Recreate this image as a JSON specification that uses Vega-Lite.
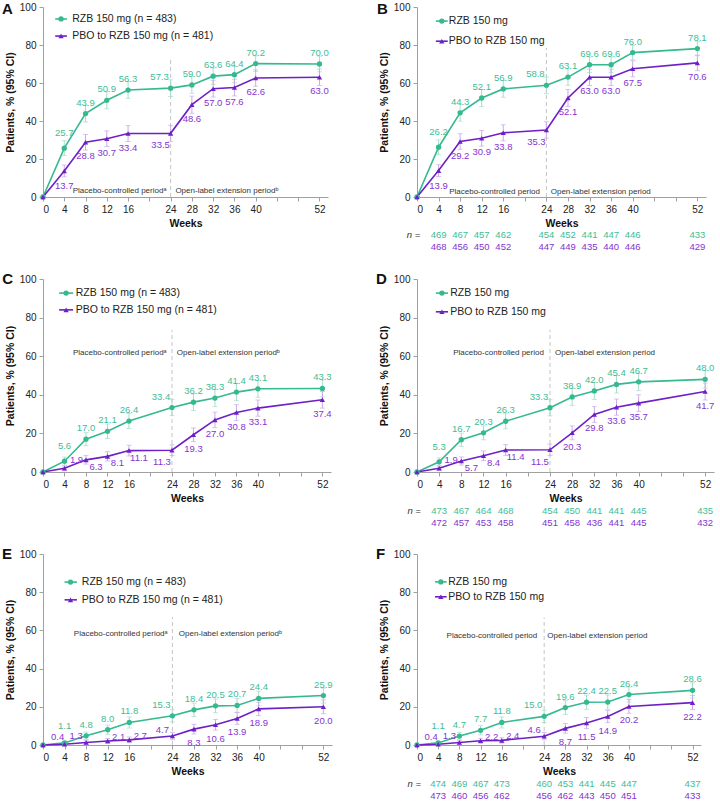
{
"$schema": "https://vega.github.io/schema/vega-lite/v6.json",
"padding": {"left": 2, "top": 1, "right": 0, "bottom": 0},
"background": "white",
"config": {
  "view": {"stroke": null},
  "font": "Liberation Sans",
  "axis": {"grid": false, "labelOverlap": false, "domainColor": "#a0a0a0", "tickColor": "#a0a0a0", "tickSize": 4, "labelPadding": 3, "labelFontSize": 10, "labelColor": "#222", "titleFontSize": 10.5, "titleFontWeight": "bold", "titleColor": "#111", "titlePadding": 4, "labelFont": "Liberation Sans", "titleFont": "Liberation Sans"}
},
"datasets": {
  "d": [
    {"p":"A","s":"RZB","w":0,"v":0,"lo":0,"hi":0},{"p":"A","s":"RZB","w":4,"v":25.7,"lo":21.8,"hi":29.6},{"p":"A","s":"RZB","w":8,"v":43.9,"lo":39.5,"hi":48.3},{"p":"A","s":"RZB","w":12,"v":50.9,"lo":46.4,"hi":55.4},{"p":"A","s":"RZB","w":16,"v":56.3,"lo":51.9,"hi":60.7},{"p":"A","s":"RZB","w":24,"v":57.3,"lo":52.9,"hi":61.7},{"p":"A","s":"RZB","w":28,"v":59.0,"lo":54.6,"hi":63.4},{"p":"A","s":"RZB","w":32,"v":63.6,"lo":59.3,"hi":67.9},{"p":"A","s":"RZB","w":36,"v":64.4,"lo":60.1,"hi":68.7},{"p":"A","s":"RZB","w":40,"v":70.2,"lo":66.1,"hi":74.3},{"p":"A","s":"RZB","w":52,"v":70.0,"lo":65.9,"hi":74.1},
    {"p":"A","s":"PBO","w":0,"v":0,"lo":0,"hi":0},{"p":"A","s":"PBO","w":4,"v":13.7,"lo":10.6,"hi":16.8},{"p":"A","s":"PBO","w":8,"v":28.8,"lo":24.7,"hi":32.9},{"p":"A","s":"PBO","w":12,"v":30.7,"lo":26.6,"hi":34.8},{"p":"A","s":"PBO","w":16,"v":33.4,"lo":29.2,"hi":37.6},{"p":"A","s":"PBO","w":24,"v":33.5,"lo":29.3,"hi":37.7},{"p":"A","s":"PBO","w":28,"v":48.6,"lo":44.1,"hi":53.1},{"p":"A","s":"PBO","w":32,"v":57.0,"lo":52.6,"hi":61.4},{"p":"A","s":"PBO","w":36,"v":57.6,"lo":53.2,"hi":62.0},{"p":"A","s":"PBO","w":40,"v":62.6,"lo":58.3,"hi":66.9},{"p":"A","s":"PBO","w":52,"v":63.0,"lo":58.7,"hi":67.3},
    {"p":"B","s":"RZB","w":0,"v":0,"lo":0,"hi":0},{"p":"B","s":"RZB","w":4,"v":26.2,"lo":22.3,"hi":30.1},{"p":"B","s":"RZB","w":8,"v":44.3,"lo":39.9,"hi":48.7},{"p":"B","s":"RZB","w":12,"v":52.1,"lo":47.6,"hi":56.6},{"p":"B","s":"RZB","w":16,"v":56.9,"lo":52.5,"hi":61.3},{"p":"B","s":"RZB","w":24,"v":58.8,"lo":54.4,"hi":63.2},{"p":"B","s":"RZB","w":28,"v":63.1,"lo":58.8,"hi":67.4},{"p":"B","s":"RZB","w":32,"v":69.6,"lo":65.5,"hi":73.7},{"p":"B","s":"RZB","w":36,"v":69.6,"lo":65.5,"hi":73.7},{"p":"B","s":"RZB","w":40,"v":76.0,"lo":72.2,"hi":79.8},{"p":"B","s":"RZB","w":52,"v":78.1,"lo":74.4,"hi":81.8},
    {"p":"B","s":"PBO","w":0,"v":0,"lo":0,"hi":0},{"p":"B","s":"PBO","w":4,"v":13.9,"lo":10.8,"hi":17.0},{"p":"B","s":"PBO","w":8,"v":29.2,"lo":25.1,"hi":33.3},{"p":"B","s":"PBO","w":12,"v":30.9,"lo":26.8,"hi":35.0},{"p":"B","s":"PBO","w":16,"v":33.8,"lo":29.6,"hi":38.0},{"p":"B","s":"PBO","w":24,"v":35.3,"lo":31.0,"hi":39.6},{"p":"B","s":"PBO","w":28,"v":52.1,"lo":47.6,"hi":56.6},{"p":"B","s":"PBO","w":32,"v":63.0,"lo":58.7,"hi":67.3},{"p":"B","s":"PBO","w":36,"v":63.0,"lo":58.7,"hi":67.3},{"p":"B","s":"PBO","w":40,"v":67.5,"lo":63.3,"hi":71.7},{"p":"B","s":"PBO","w":52,"v":70.6,"lo":66.5,"hi":74.7},
    {"p":"C","s":"RZB","w":0,"v":0,"lo":0,"hi":0},{"p":"C","s":"RZB","w":4,"v":5.6,"lo":3.5,"hi":7.7},{"p":"C","s":"RZB","w":8,"v":17.0,"lo":13.6,"hi":20.4},{"p":"C","s":"RZB","w":12,"v":21.1,"lo":17.4,"hi":24.8},{"p":"C","s":"RZB","w":16,"v":26.4,"lo":22.5,"hi":30.3},{"p":"C","s":"RZB","w":24,"v":33.4,"lo":29.2,"hi":37.6},{"p":"C","s":"RZB","w":28,"v":36.2,"lo":31.9,"hi":40.5},{"p":"C","s":"RZB","w":32,"v":38.3,"lo":33.9,"hi":42.7},{"p":"C","s":"RZB","w":36,"v":41.4,"lo":37.0,"hi":45.8},{"p":"C","s":"RZB","w":40,"v":43.1,"lo":38.7,"hi":47.5},{"p":"C","s":"RZB","w":52,"v":43.3,"lo":38.9,"hi":47.7},
    {"p":"C","s":"PBO","w":0,"v":0,"lo":0,"hi":0},{"p":"C","s":"PBO","w":4,"v":1.9,"lo":0.7,"hi":3.1},{"p":"C","s":"PBO","w":8,"v":6.3,"lo":4.1,"hi":8.5},{"p":"C","s":"PBO","w":12,"v":8.1,"lo":5.7,"hi":10.5},{"p":"C","s":"PBO","w":16,"v":11.1,"lo":8.3,"hi":13.9},{"p":"C","s":"PBO","w":24,"v":11.3,"lo":8.5,"hi":14.1},{"p":"C","s":"PBO","w":28,"v":19.3,"lo":15.8,"hi":22.8},{"p":"C","s":"PBO","w":32,"v":27.0,"lo":23.0,"hi":31.0},{"p":"C","s":"PBO","w":36,"v":30.8,"lo":26.7,"hi":34.9},{"p":"C","s":"PBO","w":40,"v":33.1,"lo":28.9,"hi":37.3},{"p":"C","s":"PBO","w":52,"v":37.4,"lo":33.1,"hi":41.7},
    {"p":"D","s":"RZB","w":0,"v":0,"lo":0,"hi":0},{"p":"D","s":"RZB","w":4,"v":5.3,"lo":3.3,"hi":7.3},{"p":"D","s":"RZB","w":8,"v":16.7,"lo":13.3,"hi":20.1},{"p":"D","s":"RZB","w":12,"v":20.3,"lo":16.7,"hi":23.9},{"p":"D","s":"RZB","w":16,"v":26.3,"lo":22.4,"hi":30.2},{"p":"D","s":"RZB","w":24,"v":33.3,"lo":29.1,"hi":37.5},{"p":"D","s":"RZB","w":28,"v":38.9,"lo":34.5,"hi":43.3},{"p":"D","s":"RZB","w":32,"v":42.0,"lo":37.6,"hi":46.4},{"p":"D","s":"RZB","w":36,"v":45.4,"lo":40.9,"hi":49.9},{"p":"D","s":"RZB","w":40,"v":46.7,"lo":42.2,"hi":51.2},{"p":"D","s":"RZB","w":52,"v":48.0,"lo":43.5,"hi":52.5},
    {"p":"D","s":"PBO","w":0,"v":0,"lo":0,"hi":0},{"p":"D","s":"PBO","w":4,"v":1.9,"lo":0.7,"hi":3.1},{"p":"D","s":"PBO","w":8,"v":5.7,"lo":3.6,"hi":7.8},{"p":"D","s":"PBO","w":12,"v":8.4,"lo":5.9,"hi":10.9},{"p":"D","s":"PBO","w":16,"v":11.4,"lo":8.6,"hi":14.2},{"p":"D","s":"PBO","w":24,"v":11.5,"lo":8.6,"hi":14.4},{"p":"D","s":"PBO","w":28,"v":20.3,"lo":16.7,"hi":23.9},{"p":"D","s":"PBO","w":32,"v":29.8,"lo":25.7,"hi":33.9},{"p":"D","s":"PBO","w":36,"v":33.6,"lo":29.4,"hi":37.8},{"p":"D","s":"PBO","w":40,"v":35.7,"lo":31.4,"hi":40.0},{"p":"D","s":"PBO","w":52,"v":41.7,"lo":37.3,"hi":46.1},
    {"p":"E","s":"RZB","w":0,"v":0,"lo":0,"hi":0},{"p":"E","s":"RZB","w":4,"v":1.1,"lo":0.2,"hi":2.0},{"p":"E","s":"RZB","w":8,"v":4.8,"lo":2.9,"hi":6.7},{"p":"E","s":"RZB","w":12,"v":8.0,"lo":5.6,"hi":10.4},{"p":"E","s":"RZB","w":16,"v":11.8,"lo":8.9,"hi":14.7},{"p":"E","s":"RZB","w":24,"v":15.3,"lo":12.1,"hi":18.5},{"p":"E","s":"RZB","w":28,"v":18.4,"lo":14.9,"hi":21.9},{"p":"E","s":"RZB","w":32,"v":20.5,"lo":16.9,"hi":24.1},{"p":"E","s":"RZB","w":36,"v":20.7,"lo":17.1,"hi":24.3},{"p":"E","s":"RZB","w":40,"v":24.4,"lo":20.6,"hi":28.2},{"p":"E","s":"RZB","w":52,"v":25.9,"lo":22.0,"hi":29.8},
    {"p":"E","s":"PBO","w":0,"v":0,"lo":0,"hi":0},{"p":"E","s":"PBO","w":4,"v":0.4,"lo":0.0,"hi":1.0},{"p":"E","s":"PBO","w":8,"v":1.3,"lo":0.3,"hi":2.3},{"p":"E","s":"PBO","w":12,"v":2.1,"lo":0.8,"hi":3.4},{"p":"E","s":"PBO","w":16,"v":2.7,"lo":1.2,"hi":4.2},{"p":"E","s":"PBO","w":24,"v":4.7,"lo":2.8,"hi":6.6},{"p":"E","s":"PBO","w":28,"v":8.3,"lo":5.8,"hi":10.8},{"p":"E","s":"PBO","w":32,"v":10.6,"lo":7.8,"hi":13.4},{"p":"E","s":"PBO","w":36,"v":13.9,"lo":10.8,"hi":17.0},{"p":"E","s":"PBO","w":40,"v":18.9,"lo":15.4,"hi":22.4},{"p":"E","s":"PBO","w":52,"v":20.0,"lo":16.4,"hi":23.6},
    {"p":"F","s":"RZB","w":0,"v":0,"lo":0,"hi":0},{"p":"F","s":"RZB","w":4,"v":1.1,"lo":0.2,"hi":2.0},{"p":"F","s":"RZB","w":8,"v":4.7,"lo":2.8,"hi":6.6},{"p":"F","s":"RZB","w":12,"v":7.7,"lo":5.3,"hi":10.1},{"p":"F","s":"RZB","w":16,"v":11.8,"lo":8.9,"hi":14.7},{"p":"F","s":"RZB","w":24,"v":15.0,"lo":11.8,"hi":18.2},{"p":"F","s":"RZB","w":28,"v":19.6,"lo":16.0,"hi":23.2},{"p":"F","s":"RZB","w":32,"v":22.4,"lo":18.7,"hi":26.1},{"p":"F","s":"RZB","w":36,"v":22.5,"lo":18.8,"hi":26.2},{"p":"F","s":"RZB","w":40,"v":26.4,"lo":22.5,"hi":30.3},{"p":"F","s":"RZB","w":52,"v":28.6,"lo":24.6,"hi":32.6},
    {"p":"F","s":"PBO","w":0,"v":0,"lo":0,"hi":0},{"p":"F","s":"PBO","w":4,"v":0.4,"lo":0.0,"hi":1.0},{"p":"F","s":"PBO","w":8,"v":1.3,"lo":0.3,"hi":2.3},{"p":"F","s":"PBO","w":12,"v":2.2,"lo":0.9,"hi":3.5},{"p":"F","s":"PBO","w":16,"v":2.4,"lo":1.0,"hi":3.8},{"p":"F","s":"PBO","w":24,"v":4.6,"lo":2.7,"hi":6.5},{"p":"F","s":"PBO","w":28,"v":8.7,"lo":6.2,"hi":11.2},{"p":"F","s":"PBO","w":32,"v":11.5,"lo":8.6,"hi":14.4},{"p":"F","s":"PBO","w":36,"v":14.9,"lo":11.7,"hi":18.1},{"p":"F","s":"PBO","w":40,"v":20.2,"lo":16.6,"hi":23.8},{"p":"F","s":"PBO","w":52,"v":22.2,"lo":18.5,"hi":25.9}
  ],
  "n": [
    {"p":"B","s":"RZB","w":4,"n":469},{"p":"B","s":"RZB","w":8,"n":467},{"p":"B","s":"RZB","w":12,"n":457},{"p":"B","s":"RZB","w":16,"n":462},{"p":"B","s":"RZB","w":24,"n":454},{"p":"B","s":"RZB","w":28,"n":452},{"p":"B","s":"RZB","w":32,"n":441},{"p":"B","s":"RZB","w":36,"n":447},{"p":"B","s":"RZB","w":40,"n":446},{"p":"B","s":"RZB","w":52,"n":433},
    {"p":"B","s":"PBO","w":4,"n":468},{"p":"B","s":"PBO","w":8,"n":456},{"p":"B","s":"PBO","w":12,"n":450},{"p":"B","s":"PBO","w":16,"n":452},{"p":"B","s":"PBO","w":24,"n":447},{"p":"B","s":"PBO","w":28,"n":449},{"p":"B","s":"PBO","w":32,"n":435},{"p":"B","s":"PBO","w":36,"n":440},{"p":"B","s":"PBO","w":40,"n":446},{"p":"B","s":"PBO","w":52,"n":429},
    {"p":"D","s":"RZB","w":4,"n":473},{"p":"D","s":"RZB","w":8,"n":467},{"p":"D","s":"RZB","w":12,"n":464},{"p":"D","s":"RZB","w":16,"n":468},{"p":"D","s":"RZB","w":24,"n":454},{"p":"D","s":"RZB","w":28,"n":450},{"p":"D","s":"RZB","w":32,"n":441},{"p":"D","s":"RZB","w":36,"n":441},{"p":"D","s":"RZB","w":40,"n":445},{"p":"D","s":"RZB","w":52,"n":435},
    {"p":"D","s":"PBO","w":4,"n":472},{"p":"D","s":"PBO","w":8,"n":457},{"p":"D","s":"PBO","w":12,"n":453},{"p":"D","s":"PBO","w":16,"n":458},{"p":"D","s":"PBO","w":24,"n":451},{"p":"D","s":"PBO","w":28,"n":458},{"p":"D","s":"PBO","w":32,"n":436},{"p":"D","s":"PBO","w":36,"n":441},{"p":"D","s":"PBO","w":40,"n":445},{"p":"D","s":"PBO","w":52,"n":432},
    {"p":"F","s":"RZB","w":4,"n":474},{"p":"F","s":"RZB","w":8,"n":469},{"p":"F","s":"RZB","w":12,"n":467},{"p":"F","s":"RZB","w":16,"n":473},{"p":"F","s":"RZB","w":24,"n":460},{"p":"F","s":"RZB","w":28,"n":453},{"p":"F","s":"RZB","w":32,"n":441},{"p":"F","s":"RZB","w":36,"n":445},{"p":"F","s":"RZB","w":40,"n":447},{"p":"F","s":"RZB","w":52,"n":437},
    {"p":"F","s":"PBO","w":4,"n":473},{"p":"F","s":"PBO","w":8,"n":460},{"p":"F","s":"PBO","w":12,"n":456},{"p":"F","s":"PBO","w":16,"n":462},{"p":"F","s":"PBO","w":24,"n":456},{"p":"F","s":"PBO","w":28,"n":462},{"p":"F","s":"PBO","w":32,"n":443},{"p":"F","s":"PBO","w":36,"n":450},{"p":"F","s":"PBO","w":40,"n":451},{"p":"F","s":"PBO","w":52,"n":433}
  ]
},
"columns": 2,
"align": "each",
"bounds": "flush",
"spacing": {"row": 82, "column": 85},
"concat": [
{
 "width": 285, "height": 190,
 "resolve": {"scale": {"color": "independent"}},
 "layer": [
  {"data":{"values":[{}]},"layer":[
   {"mark":{"type":"rule","color":"#c4c4c4","strokeDash":[4,3]},"encoding":{"x":{"datum":24},"y":{"datum":0},"y2":{"datum":73.7}}},
   {"mark":{"type":"rule","color":"#35b990","strokeWidth":1.6},"encoding":{"x":{"datum":2.3},"x2":{"datum":4.5},"y":{"datum":93.7}}},
   {"mark":{"type":"point","shape":"circle","filled":true,"opacity":1,"size":28,"color":"#35b990"},"encoding":{"x":{"datum":3.4},"y":{"datum":93.7}}},
   {"mark":{"type":"text","align":"left","baseline":"middle","fontSize":10.5,"color":"#222"},"encoding":{"x":{"datum":5.5},"y":{"datum":93.7},"text":{"value":"RZB 150 mg (n = 483)"}}},
   {"mark":{"type":"rule","color":"#6e1fc7","strokeWidth":1.6},"encoding":{"x":{"datum":2.3},"x2":{"datum":4.5},"y":{"datum":84.7}}},
   {"mark":{"type":"point","shape":"triangle-up","filled":true,"opacity":1,"size":28,"color":"#6e1fc7"},"encoding":{"x":{"datum":3.4},"y":{"datum":84.7}}},
   {"mark":{"type":"text","align":"left","baseline":"middle","fontSize":10.5,"color":"#222"},"encoding":{"x":{"datum":5.5},"y":{"datum":84.7},"text":{"value":"PBO to RZB 150 mg (n = 481)"}}},
   {"mark":{"type":"text","align":"right","baseline":"middle","fontSize":8,"color":"#333"},"encoding":{"x":{"datum":23.2},"y":{"datum":3.2},"text":{"value":"Placebo-controlled periodᵃ"}}},
   {"mark":{"type":"text","align":"left","baseline":"middle","fontSize":8,"color":"#333"},"encoding":{"x":{"datum":24.9},"y":{"datum":3.2},"text":{"value":"Open-label extension periodᵇ"}}},
   {"mark":{"type":"text","align":"left","baseline":"middle","fontSize":15,"fontWeight":"bold","color":"#111"},"encoding":{"x":{"datum":-7.7},"y":{"datum":99},"text":{"value":"A"}}}
  ]},
  {"data":{"name":"d"},"transform":[{"filter":"datum.p==='A'"}],"resolve":{"scale":{"color":"independent"}},
   "encoding": {
    "x": {"field":"w","type":"quantitative","scale":{"domain":[0,53.6],"nice":false,"zero":false},"axis":{"title":"Weeks","tickCount":30,"labelOverlap":false,"values":[0,4,8,12,16,20,24,28,32,36,40,44,48,52],"labelExpr":"datum.value==20||datum.value==44||datum.value==48 ? '' : datum.label"}},
    "y": {"field":"v","type":"quantitative","scale":{"domain":[0,100],"nice":false},"axis":{"title":"Patients, % (95% CI)","tickCount":30,"labelOverlap":false,"values":[0,20,40,60,80,100]}}
   },
   "layer":[
   {"mark":{"type":"errorbar","ticks":true},"encoding":{"y":{"field":"lo","type":"quantitative"},"y2":{"field":"hi"},"color":{"field":"s","type":"nominal","scale":{"domain":["RZB","PBO"],"range":["#a9dcc9","#c9abe6"]},"legend":null}}},
   {"mark":{"type":"line","strokeWidth":1.6},"encoding":{"color":{"field":"s","type":"nominal","scale":{"domain":["RZB","PBO"],"range":["#35b990","#6e1fc7"]},"legend":null}}},
   {"mark":{"type":"point","filled":true,"opacity":1,"size":28},"encoding":{"color":{"field":"s","type":"nominal","scale":{"domain":["RZB","PBO"],"range":["#35b990","#6e1fc7"]},"legend":null},"shape":{"field":"s","type":"nominal","scale":{"domain":["RZB","PBO"],"range":["circle","triangle-up"]},"legend":null}}},
   {"transform":[{"filter":"datum.s==='RZB' && datum.w>0"}],"mark":{"type":"text","fontSize":9.5,"color":"#3dbd96","dx":{"expr":"datum.w==24 ? -11 : 0"},"dy":{"expr":"datum.w==4 ? (datum.v<3 ? -17 : -15) : -11"}},"encoding":{"text":{"field":"v","type":"quantitative","format":".1f"}}},
   {"transform":[{"filter":"datum.s==='PBO' && datum.w>0"}],"mark":{"type":"text","fontSize":9.5,"color":"#8434d2","dx":{"expr":"datum.w==24 ? -10 : datum.w==4 ? (datum.v<1 ? -7 : datum.v<3 ? 12 : 0) : (datum.w<=16 && datum.v<3) ? (datum.w==8 ? -10 : 11) : (datum.w<=16 && datum.v<12) ? 10 : 0"},"dy":{"expr":"datum.w==24 ? (datum.v<5 ? -6 : 12) : datum.w==4 ? (datum.v<1 ? -7 : datum.v<3 ? -8 : 15) : (datum.w<=16 && datum.v<3) ? (datum.w==8 ? -7 : -4) : (datum.w<=16 && datum.v<12) ? 7 : 14"}},"encoding":{"text":{"field":"v","type":"quantitative","format":".1f"}}}
  ]}
 ]
},
{
 "width": 289, "height": 190,
 "resolve": {"scale": {"color": "independent"}},
 "layer": [
  {"data":{"values":[{}]},"layer":[
   {"mark":{"type":"rule","color":"#c4c4c4","strokeDash":[4,3]},"encoding":{"x":{"datum":24},"y":{"datum":0},"y2":{"datum":78.4}}},
   {"mark":{"type":"rule","color":"#35b990","strokeWidth":1.6},"encoding":{"x":{"datum":3.5},"x2":{"datum":5.7},"y":{"datum":92.6}}},
   {"mark":{"type":"point","shape":"circle","filled":true,"opacity":1,"size":28,"color":"#35b990"},"encoding":{"x":{"datum":4.6},"y":{"datum":92.6}}},
   {"mark":{"type":"text","align":"left","baseline":"middle","fontSize":10.5,"color":"#222"},"encoding":{"x":{"datum":5.9},"y":{"datum":92.6},"text":{"value":"RZB 150 mg"}}},
   {"mark":{"type":"rule","color":"#6e1fc7","strokeWidth":1.6},"encoding":{"x":{"datum":3.5},"x2":{"datum":5.7},"y":{"datum":82}}},
   {"mark":{"type":"point","shape":"triangle-up","filled":true,"opacity":1,"size":28,"color":"#6e1fc7"},"encoding":{"x":{"datum":4.6},"y":{"datum":82}}},
   {"mark":{"type":"text","align":"left","baseline":"middle","fontSize":10.5,"color":"#222"},"encoding":{"x":{"datum":5.9},"y":{"datum":82},"text":{"value":"PBO to RZB 150 mg"}}},
   {"mark":{"type":"text","align":"right","baseline":"middle","fontSize":8,"color":"#333"},"encoding":{"x":{"datum":22.8},"y":{"datum":2.6},"text":{"value":"Placebo-controlled period"}}},
   {"mark":{"type":"text","align":"left","baseline":"middle","fontSize":8,"color":"#333"},"encoding":{"x":{"datum":24.8},"y":{"datum":2.6},"text":{"value":"Open-label extension period"}}},
   {"mark":{"type":"text","align":"left","baseline":"middle","fontSize":15,"fontWeight":"bold","color":"#111"},"encoding":{"x":{"datum":-7.4},"y":{"datum":99},"text":{"value":"B"}}},
   {"mark":{"type":"text","align":"right","baseline":"middle","fontSize":9.5,"fontStyle":"italic","color":"#333"},"encoding":{"x":{"datum":0.6},"y":{"datum":-20},"text":{"value":"n ="}}}
  ]},
  {"data":{"name":"d"},"transform":[{"filter":"datum.p==='B'"}],"resolve":{"scale":{"color":"independent"}},
   "encoding": {
    "x": {"field":"w","type":"quantitative","scale":{"domain":[0,53.6],"nice":false,"zero":false},"axis":{"title":"Weeks","tickCount":30,"labelOverlap":false,"values":[0,4,8,12,16,20,24,28,32,36,40,44,48,52],"labelExpr":"datum.value==20||datum.value==44||datum.value==48 ? '' : datum.label"}},
    "y": {"field":"v","type":"quantitative","scale":{"domain":[0,100],"nice":false},"axis":{"title":"Patients, % (95% CI)","tickCount":30,"labelOverlap":false,"values":[0,20,40,60,80,100]}}
   },
   "layer":[
   {"mark":{"type":"errorbar","ticks":true},"encoding":{"y":{"field":"lo","type":"quantitative"},"y2":{"field":"hi"},"color":{"field":"s","type":"nominal","scale":{"domain":["RZB","PBO"],"range":["#a9dcc9","#c9abe6"]},"legend":null}}},
   {"mark":{"type":"line","strokeWidth":1.6},"encoding":{"color":{"field":"s","type":"nominal","scale":{"domain":["RZB","PBO"],"range":["#35b990","#6e1fc7"]},"legend":null}}},
   {"mark":{"type":"point","filled":true,"opacity":1,"size":28},"encoding":{"color":{"field":"s","type":"nominal","scale":{"domain":["RZB","PBO"],"range":["#35b990","#6e1fc7"]},"legend":null},"shape":{"field":"s","type":"nominal","scale":{"domain":["RZB","PBO"],"range":["circle","triangle-up"]},"legend":null}}},
   {"transform":[{"filter":"datum.s==='RZB' && datum.w>0"}],"mark":{"type":"text","fontSize":9.5,"color":"#3dbd96","dx":{"expr":"datum.w==24 ? -11 : 0"},"dy":{"expr":"datum.w==4 ? (datum.v<3 ? -17 : -15) : -11"}},"encoding":{"text":{"field":"v","type":"quantitative","format":".1f"}}},
   {"transform":[{"filter":"datum.s==='PBO' && datum.w>0"}],"mark":{"type":"text","fontSize":9.5,"color":"#8434d2","dx":{"expr":"datum.w==24 ? -10 : datum.w==4 ? (datum.v<1 ? -7 : datum.v<3 ? 12 : 0) : (datum.w<=16 && datum.v<3) ? (datum.w==8 ? -10 : 11) : (datum.w<=16 && datum.v<12) ? 10 : 0"},"dy":{"expr":"datum.w==24 ? (datum.v<5 ? -6 : 12) : datum.w==4 ? (datum.v<1 ? -7 : datum.v<3 ? -8 : 15) : (datum.w<=16 && datum.v<3) ? (datum.w==8 ? -7 : -4) : (datum.w<=16 && datum.v<12) ? 7 : 14"}},"encoding":{"text":{"field":"v","type":"quantitative","format":".1f"}}}
  ]},
  {"data":{"name":"n"},"transform":[{"filter":"datum.p==='B'"}],"layer":[
   {"transform":[{"filter":"datum.s==='RZB'"}],"mark":{"type":"text","baseline":"middle","fontSize":9.5,"color":"#3dbd96"},"encoding":{"x":{"field":"w","type":"quantitative"},"y":{"datum":-20},"text":{"field":"n","type":"nominal"}}},
   {"transform":[{"filter":"datum.s==='PBO'"}],"mark":{"type":"text","baseline":"middle","fontSize":9.5,"color":"#8434d2"},"encoding":{"x":{"field":"w","type":"quantitative"},"y":{"datum":-26.3},"text":{"field":"n","type":"nominal"}}}
  ]}
 ]
},
{
 "width": 288, "height": 193,
 "resolve": {"scale": {"color": "independent"}},
 "layer": [
  {"data":{"values":[{}]},"layer":[
   {"mark":{"type":"rule","color":"#c4c4c4","strokeDash":[4,3]},"encoding":{"x":{"datum":24},"y":{"datum":0},"y2":{"datum":73.6}}},
   {"mark":{"type":"rule","color":"#35b990","strokeWidth":1.6},"encoding":{"x":{"datum":3.0},"x2":{"datum":5.6},"y":{"datum":92.7}}},
   {"mark":{"type":"point","shape":"circle","filled":true,"opacity":1,"size":28,"color":"#35b990"},"encoding":{"x":{"datum":4.3},"y":{"datum":92.7}}},
   {"mark":{"type":"text","align":"left","baseline":"middle","fontSize":10.5,"color":"#222"},"encoding":{"x":{"datum":6.1},"y":{"datum":92.7},"text":{"value":"RZB 150 mg (n = 483)"}}},
   {"mark":{"type":"rule","color":"#6e1fc7","strokeWidth":1.6},"encoding":{"x":{"datum":3.0},"x2":{"datum":5.6},"y":{"datum":84}}},
   {"mark":{"type":"point","shape":"triangle-up","filled":true,"opacity":1,"size":28,"color":"#6e1fc7"},"encoding":{"x":{"datum":4.3},"y":{"datum":84}}},
   {"mark":{"type":"text","align":"left","baseline":"middle","fontSize":10.5,"color":"#222"},"encoding":{"x":{"datum":6.1},"y":{"datum":84},"text":{"value":"PBO to RZB 150 mg (n = 481)"}}},
   {"mark":{"type":"text","align":"right","baseline":"middle","fontSize":8,"color":"#333"},"encoding":{"x":{"datum":23.0},"y":{"datum":61.7},"text":{"value":"Placebo-controlled periodᵃ"}}},
   {"mark":{"type":"text","align":"left","baseline":"middle","fontSize":8,"color":"#333"},"encoding":{"x":{"datum":24.9},"y":{"datum":61.7},"text":{"value":"Open-label extension periodᵇ"}}},
   {"mark":{"type":"text","align":"left","baseline":"middle","fontSize":15,"fontWeight":"bold","color":"#111"},"encoding":{"x":{"datum":-7.6},"y":{"datum":100},"text":{"value":"C"}}}
  ]},
  {"data":{"name":"d"},"transform":[{"filter":"datum.p==='C'"}],"resolve":{"scale":{"color":"independent"}},
   "encoding": {
    "x": {"field":"w","type":"quantitative","scale":{"domain":[0,53.6],"nice":false,"zero":false},"axis":{"title":"Weeks","tickCount":30,"labelOverlap":false,"values":[0,4,8,12,16,20,24,28,32,36,40,44,48,52],"labelExpr":"datum.value==20||datum.value==44||datum.value==48 ? '' : datum.label"}},
    "y": {"field":"v","type":"quantitative","scale":{"domain":[0,100],"nice":false},"axis":{"title":"Patients, % (95% CI)","tickCount":30,"labelOverlap":false,"values":[0,20,40,60,80,100]}}
   },
   "layer":[
   {"mark":{"type":"errorbar","ticks":true},"encoding":{"y":{"field":"lo","type":"quantitative"},"y2":{"field":"hi"},"color":{"field":"s","type":"nominal","scale":{"domain":["RZB","PBO"],"range":["#a9dcc9","#c9abe6"]},"legend":null}}},
   {"mark":{"type":"line","strokeWidth":1.6},"encoding":{"color":{"field":"s","type":"nominal","scale":{"domain":["RZB","PBO"],"range":["#35b990","#6e1fc7"]},"legend":null}}},
   {"mark":{"type":"point","filled":true,"opacity":1,"size":28},"encoding":{"color":{"field":"s","type":"nominal","scale":{"domain":["RZB","PBO"],"range":["#35b990","#6e1fc7"]},"legend":null},"shape":{"field":"s","type":"nominal","scale":{"domain":["RZB","PBO"],"range":["circle","triangle-up"]},"legend":null}}},
   {"transform":[{"filter":"datum.s==='RZB' && datum.w>0"}],"mark":{"type":"text","fontSize":9.5,"color":"#3dbd96","dx":{"expr":"datum.w==24 ? -11 : 0"},"dy":{"expr":"datum.w==4 ? (datum.v<3 ? -17 : -15) : -11"}},"encoding":{"text":{"field":"v","type":"quantitative","format":".1f"}}},
   {"transform":[{"filter":"datum.s==='PBO' && datum.w>0"}],"mark":{"type":"text","fontSize":9.5,"color":"#8434d2","dx":{"expr":"datum.w==24 ? -10 : datum.w==4 ? (datum.v<1 ? -7 : datum.v<3 ? 12 : 0) : (datum.w<=16 && datum.v<3) ? (datum.w==8 ? -10 : 11) : (datum.w<=16 && datum.v<12) ? 10 : 0"},"dy":{"expr":"datum.w==24 ? (datum.v<5 ? -6 : 12) : datum.w==4 ? (datum.v<1 ? -7 : datum.v<3 ? -8 : 15) : (datum.w<=16 && datum.v<3) ? (datum.w==8 ? -7 : -4) : (datum.w<=16 && datum.v<12) ? 7 : 14"}},"encoding":{"text":{"field":"v","type":"quantitative","format":".1f"}}}
  ]}
 ]
},
{
 "width": 297, "height": 193,
 "resolve": {"scale": {"color": "independent"}},
 "layer": [
  {"data":{"values":[{}]},"layer":[
   {"mark":{"type":"rule","color":"#c4c4c4","strokeDash":[4,3]},"encoding":{"x":{"datum":24},"y":{"datum":0},"y2":{"datum":73.6}}},
   {"mark":{"type":"rule","color":"#35b990","strokeWidth":1.6},"encoding":{"x":{"datum":3.4},"x2":{"datum":5.6},"y":{"datum":92.7}}},
   {"mark":{"type":"point","shape":"circle","filled":true,"opacity":1,"size":28,"color":"#35b990"},"encoding":{"x":{"datum":4.5},"y":{"datum":92.7}}},
   {"mark":{"type":"text","align":"left","baseline":"middle","fontSize":10.5,"color":"#222"},"encoding":{"x":{"datum":6.0},"y":{"datum":92.7},"text":{"value":"RZB 150 mg"}}},
   {"mark":{"type":"rule","color":"#6e1fc7","strokeWidth":1.6},"encoding":{"x":{"datum":3.4},"x2":{"datum":5.6},"y":{"datum":83}}},
   {"mark":{"type":"point","shape":"triangle-up","filled":true,"opacity":1,"size":28,"color":"#6e1fc7"},"encoding":{"x":{"datum":4.5},"y":{"datum":83}}},
   {"mark":{"type":"text","align":"left","baseline":"middle","fontSize":10.5,"color":"#222"},"encoding":{"x":{"datum":6.0},"y":{"datum":83},"text":{"value":"PBO to RZB 150 mg"}}},
   {"mark":{"type":"text","align":"right","baseline":"middle","fontSize":8,"color":"#333"},"encoding":{"x":{"datum":22.9},"y":{"datum":61.7},"text":{"value":"Placebo-controlled period"}}},
   {"mark":{"type":"text","align":"left","baseline":"middle","fontSize":8,"color":"#333"},"encoding":{"x":{"datum":24.9},"y":{"datum":61.7},"text":{"value":"Open-label extension period"}}},
   {"mark":{"type":"text","align":"left","baseline":"middle","fontSize":15,"fontWeight":"bold","color":"#111"},"encoding":{"x":{"datum":-7.4},"y":{"datum":100},"text":{"value":"D"}}},
   {"mark":{"type":"text","align":"right","baseline":"middle","fontSize":9.5,"fontStyle":"italic","color":"#333"},"encoding":{"x":{"datum":0.7},"y":{"datum":-20.2},"text":{"value":"n ="}}}
  ]},
  {"data":{"name":"d"},"transform":[{"filter":"datum.p==='D'"}],"resolve":{"scale":{"color":"independent"}},
   "encoding": {
    "x": {"field":"w","type":"quantitative","scale":{"domain":[0,53.6],"nice":false,"zero":false},"axis":{"title":"Weeks","tickCount":30,"labelOverlap":false,"values":[0,4,8,12,16,20,24,28,32,36,40,44,48,52],"labelExpr":"datum.value==20||datum.value==44||datum.value==48 ? '' : datum.label"}},
    "y": {"field":"v","type":"quantitative","scale":{"domain":[0,100],"nice":false},"axis":{"title":"Patients, % (95% CI)","tickCount":30,"labelOverlap":false,"values":[0,20,40,60,80,100]}}
   },
   "layer":[
   {"mark":{"type":"errorbar","ticks":true},"encoding":{"y":{"field":"lo","type":"quantitative"},"y2":{"field":"hi"},"color":{"field":"s","type":"nominal","scale":{"domain":["RZB","PBO"],"range":["#a9dcc9","#c9abe6"]},"legend":null}}},
   {"mark":{"type":"line","strokeWidth":1.6},"encoding":{"color":{"field":"s","type":"nominal","scale":{"domain":["RZB","PBO"],"range":["#35b990","#6e1fc7"]},"legend":null}}},
   {"mark":{"type":"point","filled":true,"opacity":1,"size":28},"encoding":{"color":{"field":"s","type":"nominal","scale":{"domain":["RZB","PBO"],"range":["#35b990","#6e1fc7"]},"legend":null},"shape":{"field":"s","type":"nominal","scale":{"domain":["RZB","PBO"],"range":["circle","triangle-up"]},"legend":null}}},
   {"transform":[{"filter":"datum.s==='RZB' && datum.w>0"}],"mark":{"type":"text","fontSize":9.5,"color":"#3dbd96","dx":{"expr":"datum.w==24 ? -11 : 0"},"dy":{"expr":"datum.w==4 ? (datum.v<3 ? -17 : -15) : -11"}},"encoding":{"text":{"field":"v","type":"quantitative","format":".1f"}}},
   {"transform":[{"filter":"datum.s==='PBO' && datum.w>0"}],"mark":{"type":"text","fontSize":9.5,"color":"#8434d2","dx":{"expr":"datum.w==24 ? -10 : datum.w==4 ? (datum.v<1 ? -7 : datum.v<3 ? 12 : 0) : (datum.w<=16 && datum.v<3) ? (datum.w==8 ? -10 : 11) : (datum.w<=16 && datum.v<12) ? 10 : 0"},"dy":{"expr":"datum.w==24 ? (datum.v<5 ? -6 : 12) : datum.w==4 ? (datum.v<1 ? -7 : datum.v<3 ? -8 : 15) : (datum.w<=16 && datum.v<3) ? (datum.w==8 ? -7 : -4) : (datum.w<=16 && datum.v<12) ? 7 : 14"}},"encoding":{"text":{"field":"v","type":"quantitative","format":".1f"}}}
  ]},
  {"data":{"name":"n"},"transform":[{"filter":"datum.p==='D'"}],"layer":[
   {"transform":[{"filter":"datum.s==='RZB'"}],"mark":{"type":"text","baseline":"middle","fontSize":9.5,"color":"#3dbd96"},"encoding":{"x":{"field":"w","type":"quantitative"},"y":{"datum":-20.2},"text":{"field":"n","type":"nominal"}}},
   {"transform":[{"filter":"datum.s==='PBO'"}],"mark":{"type":"text","baseline":"middle","fontSize":9.5,"color":"#8434d2"},"encoding":{"x":{"field":"w","type":"quantitative"},"y":{"datum":-26.4},"text":{"field":"n","type":"nominal"}}}
  ]}
 ]
},
{
 "width": 289, "height": 191,
 "resolve": {"scale": {"color": "independent"}},
 "layer": [
  {"data":{"values":[{}]},"layer":[
   {"mark":{"type":"rule","color":"#c4c4c4","strokeDash":[4,3]},"encoding":{"x":{"datum":24},"y":{"datum":0},"y2":{"datum":67}}},
   {"mark":{"type":"rule","color":"#35b990","strokeWidth":1.6},"encoding":{"x":{"datum":4.0},"x2":{"datum":6.3},"y":{"datum":85.3}}},
   {"mark":{"type":"point","shape":"circle","filled":true,"opacity":1,"size":28,"color":"#35b990"},"encoding":{"x":{"datum":5.1},"y":{"datum":85.3}}},
   {"mark":{"type":"text","align":"left","baseline":"middle","fontSize":10.5,"color":"#222"},"encoding":{"x":{"datum":7.2},"y":{"datum":85.3},"text":{"value":"RZB 150 mg (n = 483)"}}},
   {"mark":{"type":"rule","color":"#6e1fc7","strokeWidth":1.6},"encoding":{"x":{"datum":4.0},"x2":{"datum":6.3},"y":{"datum":76}}},
   {"mark":{"type":"point","shape":"triangle-up","filled":true,"opacity":1,"size":28,"color":"#6e1fc7"},"encoding":{"x":{"datum":5.1},"y":{"datum":76}}},
   {"mark":{"type":"text","align":"left","baseline":"middle","fontSize":10.5,"color":"#222"},"encoding":{"x":{"datum":7.2},"y":{"datum":76},"text":{"value":"PBO to RZB 150 mg (n = 481)"}}},
   {"mark":{"type":"text","align":"right","baseline":"middle","fontSize":8,"color":"#333"},"encoding":{"x":{"datum":23.1},"y":{"datum":58},"text":{"value":"Placebo-controlled periodᵃ"}}},
   {"mark":{"type":"text","align":"left","baseline":"middle","fontSize":8,"color":"#333"},"encoding":{"x":{"datum":25.2},"y":{"datum":58},"text":{"value":"Open-label extension periodᵇ"}}},
   {"mark":{"type":"text","align":"left","baseline":"middle","fontSize":15,"fontWeight":"bold","color":"#111"},"encoding":{"x":{"datum":-7.6},"y":{"datum":100},"text":{"value":"E"}}}
  ]},
  {"data":{"name":"d"},"transform":[{"filter":"datum.p==='E'"}],"resolve":{"scale":{"color":"independent"}},
   "encoding": {
    "x": {"field":"w","type":"quantitative","scale":{"domain":[0,53.6],"nice":false,"zero":false},"axis":{"title":"Weeks","tickCount":30,"labelOverlap":false,"values":[0,4,8,12,16,20,24,28,32,36,40,44,48,52],"labelExpr":"datum.value==20||datum.value==44||datum.value==48 ? '' : datum.label"}},
    "y": {"field":"v","type":"quantitative","scale":{"domain":[0,100],"nice":false},"axis":{"title":"Patients, % (95% CI)","tickCount":30,"labelOverlap":false,"values":[0,20,40,60,80,100]}}
   },
   "layer":[
   {"mark":{"type":"errorbar","ticks":true},"encoding":{"y":{"field":"lo","type":"quantitative"},"y2":{"field":"hi"},"color":{"field":"s","type":"nominal","scale":{"domain":["RZB","PBO"],"range":["#a9dcc9","#c9abe6"]},"legend":null}}},
   {"mark":{"type":"line","strokeWidth":1.6},"encoding":{"color":{"field":"s","type":"nominal","scale":{"domain":["RZB","PBO"],"range":["#35b990","#6e1fc7"]},"legend":null}}},
   {"mark":{"type":"point","filled":true,"opacity":1,"size":28},"encoding":{"color":{"field":"s","type":"nominal","scale":{"domain":["RZB","PBO"],"range":["#35b990","#6e1fc7"]},"legend":null},"shape":{"field":"s","type":"nominal","scale":{"domain":["RZB","PBO"],"range":["circle","triangle-up"]},"legend":null}}},
   {"transform":[{"filter":"datum.s==='RZB' && datum.w>0"}],"mark":{"type":"text","fontSize":9.5,"color":"#3dbd96","dx":{"expr":"datum.w==24 ? -11 : 0"},"dy":{"expr":"datum.w==4 ? (datum.v<3 ? -17 : -15) : -11"}},"encoding":{"text":{"field":"v","type":"quantitative","format":".1f"}}},
   {"transform":[{"filter":"datum.s==='PBO' && datum.w>0"}],"mark":{"type":"text","fontSize":9.5,"color":"#8434d2","dx":{"expr":"datum.w==24 ? -10 : datum.w==4 ? (datum.v<1 ? -7 : datum.v<3 ? 12 : 0) : (datum.w<=16 && datum.v<3) ? (datum.w==8 ? -10 : 11) : (datum.w<=16 && datum.v<12) ? 10 : 0"},"dy":{"expr":"datum.w==24 ? (datum.v<5 ? -6 : 12) : datum.w==4 ? (datum.v<1 ? -7 : datum.v<3 ? -8 : 15) : (datum.w<=16 && datum.v<3) ? (datum.w==8 ? -7 : -4) : (datum.w<=16 && datum.v<12) ? 7 : 14"}},"encoding":{"text":{"field":"v","type":"quantitative","format":".1f"}}}
  ]}
 ]
},
{
 "width": 284, "height": 191,
 "resolve": {"scale": {"color": "independent"}},
 "layer": [
  {"data":{"values":[{}]},"layer":[
   {"mark":{"type":"rule","color":"#c4c4c4","strokeDash":[4,3]},"encoding":{"x":{"datum":24},"y":{"datum":0},"y2":{"datum":66.7}}},
   {"mark":{"type":"rule","color":"#35b990","strokeWidth":1.6},"encoding":{"x":{"datum":3.4},"x2":{"datum":5.6},"y":{"datum":85.4}}},
   {"mark":{"type":"point","shape":"circle","filled":true,"opacity":1,"size":28,"color":"#35b990"},"encoding":{"x":{"datum":4.5},"y":{"datum":85.4}}},
   {"mark":{"type":"text","align":"left","baseline":"middle","fontSize":10.5,"color":"#222"},"encoding":{"x":{"datum":5.9},"y":{"datum":85.4},"text":{"value":"RZB 150 mg"}}},
   {"mark":{"type":"rule","color":"#6e1fc7","strokeWidth":1.6},"encoding":{"x":{"datum":3.4},"x2":{"datum":5.6},"y":{"datum":77.6}}},
   {"mark":{"type":"point","shape":"triangle-up","filled":true,"opacity":1,"size":28,"color":"#6e1fc7"},"encoding":{"x":{"datum":4.5},"y":{"datum":77.6}}},
   {"mark":{"type":"text","align":"left","baseline":"middle","fontSize":10.5,"color":"#222"},"encoding":{"x":{"datum":5.9},"y":{"datum":77.6},"text":{"value":"PBO to RZB 150 mg"}}},
   {"mark":{"type":"text","align":"right","baseline":"middle","fontSize":8,"color":"#333"},"encoding":{"x":{"datum":22.7},"y":{"datum":57},"text":{"value":"Placebo-controlled period"}}},
   {"mark":{"type":"text","align":"left","baseline":"middle","fontSize":8,"color":"#333"},"encoding":{"x":{"datum":24.6},"y":{"datum":57},"text":{"value":"Open-label extension period"}}},
   {"mark":{"type":"text","align":"left","baseline":"middle","fontSize":15,"fontWeight":"bold","color":"#111"},"encoding":{"x":{"datum":-7.75},"y":{"datum":100},"text":{"value":"F"}}},
   {"mark":{"type":"text","align":"right","baseline":"middle","fontSize":9.5,"fontStyle":"italic","color":"#333"},"encoding":{"x":{"datum":0.75},"y":{"datum":-20.3},"text":{"value":"n ="}}}
  ]},
  {"data":{"name":"d"},"transform":[{"filter":"datum.p==='F'"}],"resolve":{"scale":{"color":"independent"}},
   "encoding": {
    "x": {"field":"w","type":"quantitative","scale":{"domain":[0,53.6],"nice":false,"zero":false},"axis":{"title":"Weeks","tickCount":30,"labelOverlap":false,"values":[0,4,8,12,16,20,24,28,32,36,40,44,48,52],"labelExpr":"datum.value==20||datum.value==44||datum.value==48 ? '' : datum.label"}},
    "y": {"field":"v","type":"quantitative","scale":{"domain":[0,100],"nice":false},"axis":{"title":"Patients, % (95% CI)","tickCount":30,"labelOverlap":false,"values":[0,20,40,60,80,100]}}
   },
   "layer":[
   {"mark":{"type":"errorbar","ticks":true},"encoding":{"y":{"field":"lo","type":"quantitative"},"y2":{"field":"hi"},"color":{"field":"s","type":"nominal","scale":{"domain":["RZB","PBO"],"range":["#a9dcc9","#c9abe6"]},"legend":null}}},
   {"mark":{"type":"line","strokeWidth":1.6},"encoding":{"color":{"field":"s","type":"nominal","scale":{"domain":["RZB","PBO"],"range":["#35b990","#6e1fc7"]},"legend":null}}},
   {"mark":{"type":"point","filled":true,"opacity":1,"size":28},"encoding":{"color":{"field":"s","type":"nominal","scale":{"domain":["RZB","PBO"],"range":["#35b990","#6e1fc7"]},"legend":null},"shape":{"field":"s","type":"nominal","scale":{"domain":["RZB","PBO"],"range":["circle","triangle-up"]},"legend":null}}},
   {"transform":[{"filter":"datum.s==='RZB' && datum.w>0"}],"mark":{"type":"text","fontSize":9.5,"color":"#3dbd96","dx":{"expr":"datum.w==24 ? -11 : 0"},"dy":{"expr":"datum.w==4 ? (datum.v<3 ? -17 : -15) : -11"}},"encoding":{"text":{"field":"v","type":"quantitative","format":".1f"}}},
   {"transform":[{"filter":"datum.s==='PBO' && datum.w>0"}],"mark":{"type":"text","fontSize":9.5,"color":"#8434d2","dx":{"expr":"datum.w==24 ? -10 : datum.w==4 ? (datum.v<1 ? -7 : datum.v<3 ? 12 : 0) : (datum.w<=16 && datum.v<3) ? (datum.w==8 ? -10 : 11) : (datum.w<=16 && datum.v<12) ? 10 : 0"},"dy":{"expr":"datum.w==24 ? (datum.v<5 ? -6 : 12) : datum.w==4 ? (datum.v<1 ? -7 : datum.v<3 ? -8 : 15) : (datum.w<=16 && datum.v<3) ? (datum.w==8 ? -7 : -4) : (datum.w<=16 && datum.v<12) ? 7 : 14"}},"encoding":{"text":{"field":"v","type":"quantitative","format":".1f"}}}
  ]},
  {"data":{"name":"n"},"transform":[{"filter":"datum.p==='F'"}],"layer":[
   {"transform":[{"filter":"datum.s==='RZB'"}],"mark":{"type":"text","baseline":"middle","fontSize":9.5,"color":"#3dbd96"},"encoding":{"x":{"field":"w","type":"quantitative"},"y":{"datum":-20.3},"text":{"field":"n","type":"nominal"}}},
   {"transform":[{"filter":"datum.s==='PBO'"}],"mark":{"type":"text","baseline":"middle","fontSize":9.5,"color":"#8434d2"},"encoding":{"x":{"field":"w","type":"quantitative"},"y":{"datum":-26.6},"text":{"field":"n","type":"nominal"}}}
  ]}
 ]
}
]
}
